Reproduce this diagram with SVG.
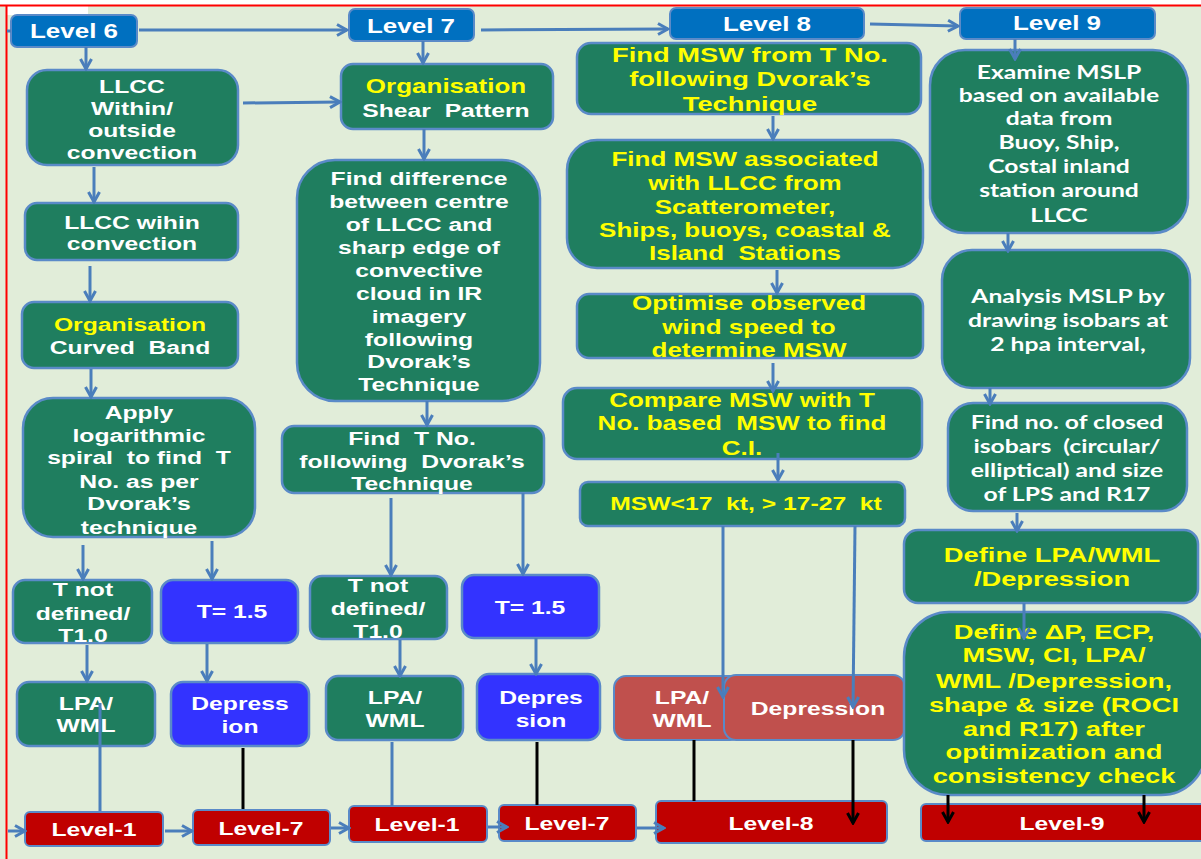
<svg xmlns="http://www.w3.org/2000/svg" width="1201" height="859" viewBox="0 0 1201 859">
<style>
.t{font-family:"Liberation Sans",Arial,sans-serif;font-weight:bold;font-size:19px;fill:#fff;text-anchor:middle;white-space:pre}
.c{font-family:Lato,"Open Sans",sans-serif;font-weight:bold;font-size:19px;fill:#fff;text-anchor:middle;white-space:pre}
.y{fill:#FFFF00}
.f20{font-size:20px}
.f21{font-size:21px}
.g{fill:#1F7E5F;stroke:#5A8AC8;stroke-width:2.5}
.b{fill:#0070C0;stroke:#5A8AC8;stroke-width:2}
.p{fill:#3333FF;stroke:#5A8AC8;stroke-width:2.5}
.r{fill:#C00000;stroke:#5A8AC8;stroke-width:2}
.rr{fill:#C0504D;stroke:#5A8AC8;stroke-width:2}
.cn{stroke:#4A7EBB;stroke-width:3;fill:none}
.k{stroke:#000;stroke-width:3;fill:none}
</style>
<defs>
<marker id="a" viewBox="0 0 14 14" refX="12" refY="7" markerWidth="14" markerHeight="14" markerUnits="userSpaceOnUse" orient="auto">
<path d="M2,1.5 L12,7 L2,12.5" fill="none" stroke="#4A7EBB" stroke-width="3"/>
</marker>
<marker id="ak" viewBox="0 0 14 14" refX="12" refY="7" markerWidth="14" markerHeight="14" markerUnits="userSpaceOnUse" orient="auto">
<path d="M2,1.5 L12,7 L2,12.5" fill="none" stroke="#000" stroke-width="3"/>
</marker>
</defs>
<rect x="0" y="0" width="1201" height="859" fill="#E1EDD9"/>
<rect x="0" y="0" width="1201" height="5" fill="#fff"/>
<rect x="7" y="6" width="81" height="9" fill="#fff"/>
<line x1="0" y1="5.5" x2="1201" y2="5.5" stroke="#FF0000" stroke-width="2"/>
<line x1="6.5" y1="5" x2="6.5" y2="859" stroke="#FF0000" stroke-width="2"/>

<g id="nodes">
<g id="n_l6"><rect class="b" x="11" y="15" width="126" height="32" rx="6"/><text class="t f20" transform="translate(74 0) scale(1.3 1)"><tspan x="0" y="38">Level 6</tspan></text></g>
<g id="n_l7"><rect class="b" x="349" y="9" width="125" height="32" rx="6"/><text class="t f20" transform="translate(411 0) scale(1.3 1)"><tspan x="0" y="33">Level 7</tspan></text></g>
<g id="n_l8"><rect class="b" x="670" y="8" width="194" height="31" rx="6"/><text class="t f20" transform="translate(767 0) scale(1.3 1)"><tspan x="0" y="31">Level 8</tspan></text></g>
<g id="n_l9"><rect class="b" x="960" y="8" width="195" height="31" rx="6"/><text class="t f20" transform="translate(1057 0) scale(1.3 1)"><tspan x="0" y="30">Level 9</tspan></text></g>

<g id="n_llcc"><rect class="g" x="27" y="70" width="211" height="95" rx="20"/><text class="t" transform="translate(132 0) scale(1.3 1)"><tspan x="0" y="93">LLCC</tspan><tspan x="0" y="115">Within/</tspan><tspan x="0" y="137">outside</tspan><tspan x="0" y="159">convection</tspan></text></g>
<g id="n_wihin"><rect class="g" x="25" y="203" width="213" height="57" rx="12"/><text class="t" transform="translate(132 0) scale(1.3 1)"><tspan x="0" y="229">LLCC wihin</tspan><tspan x="0" y="250">convection</tspan></text></g>
<g id="n_curved"><rect class="g" x="22" y="302" width="216" height="66" rx="12"/><text class="t" transform="translate(130 0) scale(1.3 1)"><tspan class="y" x="0" y="331">Organisation</tspan><tspan x="0" y="354">Curved  Band</tspan></text></g>
<g id="n_apply"><rect class="g" x="23" y="398" width="232" height="139" rx="30"/><text class="t" transform="translate(139 0) scale(1.3 1)"><tspan x="0" y="419">Apply</tspan><tspan x="0" y="442">logarithmic</tspan><tspan x="0" y="464">spiral  to find  T</tspan><tspan x="0" y="488">No. as per</tspan><tspan x="0" y="510">Dvorak’s</tspan><tspan x="0" y="534">technique</tspan></text></g>
<g id="n_tnd1"><rect class="g" x="13" y="580" width="139" height="63" rx="12"/><text class="t" transform="translate(83 0) scale(1.3 1)"><tspan x="0" y="596">T not</tspan><tspan x="0" y="620">defined/</tspan><tspan x="0" y="642">T1.0</tspan></text></g>
<g id="n_t15a"><rect class="p" x="161" y="580" width="137" height="63" rx="12"/><text class="t" transform="translate(232 0) scale(1.3 1)"><tspan x="0" y="618">T= 1.5</tspan></text></g>
<g id="n_lpa1"><rect class="g" x="17" y="682" width="138" height="64" rx="12"/><text class="t" transform="translate(86 0) scale(1.3 1)"><tspan x="0" y="710">LPA/</tspan><tspan x="0" y="732">WML</tspan></text></g>
<g id="n_dep1"><rect class="p" x="171" y="682" width="138" height="64" rx="12"/><text class="t" transform="translate(240 0) scale(1.3 1)"><tspan x="0" y="710">Depress</tspan><tspan x="0" y="733">ion</tspan></text></g>

<g id="n_org7"><rect class="g" x="341" y="64" width="212" height="65" rx="12"/><text class="t" transform="translate(446 0) scale(1.3 1)"><tspan class="y f20" x="0" y="93">Organisation</tspan><tspan x="0" y="117">Shear  Pattern</tspan></text></g>
<g id="n_diff"><rect class="g" x="297" y="160" width="243" height="241" rx="38"/><text class="t" transform="translate(419 0) scale(1.3 1)"><tspan x="0" y="185">Find difference</tspan><tspan x="0" y="208">between centre</tspan><tspan x="0" y="231">of LLCC and</tspan><tspan x="0" y="254">sharp edge of</tspan><tspan x="0" y="277">convective</tspan><tspan x="0" y="300">cloud in IR</tspan><tspan x="0" y="323">imagery</tspan><tspan x="0" y="346">following</tspan><tspan x="0" y="368">Dvorak’s</tspan><tspan x="0" y="391">Technique</tspan></text></g>
<g id="n_findT"><rect class="g" x="282" y="426" width="262" height="67" rx="12"/><text class="t" transform="translate(412 0) scale(1.3 1)"><tspan x="0" y="445">Find  T No.</tspan><tspan x="0" y="468">following  Dvorak’s</tspan><tspan x="0" y="490">Technique</tspan></text></g>
<g id="n_tnd2"><rect class="g" x="310" y="576" width="137" height="63" rx="12"/><text class="t" transform="translate(378 0) scale(1.3 1)"><tspan x="0" y="592">T not</tspan><tspan x="0" y="615">defined/</tspan><tspan x="0" y="638">T1.0</tspan></text></g>
<g id="n_t15b"><rect class="p" x="462" y="575" width="137" height="63" rx="12"/><text class="t" transform="translate(530 0) scale(1.3 1)"><tspan x="0" y="614">T= 1.5</tspan></text></g>
<g id="n_lpa2"><rect class="g" x="326" y="676" width="137" height="64" rx="12"/><text class="t" transform="translate(395 0) scale(1.3 1)"><tspan x="0" y="704">LPA/</tspan><tspan x="0" y="727">WML</tspan></text></g>
<g id="n_dep2"><rect class="p" x="477" y="674" width="123" height="66" rx="12"/><text class="t" transform="translate(541 0) scale(1.3 1)"><tspan x="0" y="704">Depres</tspan><tspan x="0" y="727">sion</tspan></text></g>

<g id="n_msw1"><rect class="g" x="577" y="43" width="344" height="71" rx="14"/><text class="t y f21" transform="translate(750 0) scale(1.3 1)"><tspan x="0" y="62">Find MSW from T No.</tspan><tspan x="0" y="86">following Dvorak’s</tspan><tspan x="0" y="111">Technique</tspan></text></g>
<g id="n_msw2"><rect class="g" x="567" y="140" width="356" height="128" rx="30"/><text class="t y f20" transform="translate(745 0) scale(1.3 1)"><tspan x="0" y="166">Find MSW associated</tspan><tspan x="0" y="190">with LLCC from</tspan><tspan x="0" y="214">Scatterometer,</tspan><tspan x="0" y="237">Ships, buoys, coastal &amp;</tspan><tspan x="0" y="260">Island  Stations</tspan></text></g>
<g id="n_opt"><rect class="g" x="577" y="294" width="346" height="64" rx="12"/><text class="t y f20" transform="translate(749 0) scale(1.3 1)"><tspan x="0" y="310">Optimise observed</tspan><tspan x="0" y="334">wind speed to</tspan><tspan x="0" y="357">determine MSW</tspan></text></g>
<g id="n_cmp"><rect class="g" x="563" y="388" width="359" height="71" rx="14"/><text class="t y f20" transform="translate(742 0) scale(1.3 1)"><tspan x="0" y="407">Compare MSW with T</tspan><tspan x="0" y="430">No. based  MSW to find</tspan><tspan x="0" y="455">C.I.</tspan></text></g>
<g id="n_mswkt"><rect class="g" x="580" y="482" width="325" height="44" rx="8"/><text class="t y" transform="translate(746 0) scale(1.3 1)"><tspan x="0" y="510">MSW&lt;17  kt, &gt; 17-27  kt</tspan></text></g>
<g id="n_lpa8"><rect class="rr" x="614" y="676" width="128" height="64" rx="12"/><text class="t" transform="translate(682 0) scale(1.3 1)"><tspan x="0" y="704">LPA/</tspan><tspan x="0" y="727">WML</tspan></text></g>
<g id="n_dep8"><rect class="rr" x="724" y="675" width="181" height="65" rx="12"/><text class="t" transform="translate(818 0) scale(1.3 1)"><tspan x="0" y="715">Depression</tspan></text></g>

<g id="n_exam"><rect class="g" x="930" y="50" width="258" height="183" rx="35"/><text class="c" transform="translate(1059 0) scale(1.3 1)"><tspan x="0" y="79">Examine MSLP</tspan><tspan x="0" y="102">based on available</tspan><tspan x="0" y="125">data from</tspan><tspan x="0" y="149">Buoy, Ship,</tspan><tspan x="0" y="173">Costal inland</tspan><tspan x="0" y="197">station around</tspan><tspan x="0" y="222">LLCC</tspan></text></g>
<g id="n_anal"><rect class="g" x="942" y="250" width="248" height="138" rx="30"/><text class="c" transform="translate(1068 0) scale(1.3 1)"><tspan x="0" y="303">Analysis MSLP by</tspan><tspan x="0" y="327">drawing isobars at</tspan><tspan x="0" y="351">2 hpa interval,</tspan></text></g>
<g id="n_closed"><rect class="g" x="948" y="403" width="239" height="108" rx="25"/><text class="c" transform="translate(1067 0) scale(1.3 1)"><tspan x="0" y="429">Find no. of closed</tspan><tspan x="0" y="453">isobars  (circular/</tspan><tspan x="0" y="477">elliptical) and size</tspan><tspan x="0" y="501">of LPS and R17</tspan></text></g>
<g id="n_deflpa"><rect class="g" x="904" y="530" width="294" height="73" rx="14"/><text class="t y f21" transform="translate(1052 0) scale(1.3 1)"><tspan x="0" y="562">Define LPA/WML</tspan><tspan x="0" y="586">/Depression</tspan></text></g>
<g id="n_defdp"><rect class="g" x="904" y="612" width="302" height="183" rx="45"/><text class="t y f21" transform="translate(1054 0) scale(1.3 1)"><tspan x="0" y="639">Define ΔP, ECP,</tspan><tspan x="0" y="662">MSW, CI, LPA/</tspan><tspan x="0" y="688">WML /Depression,</tspan><tspan x="0" y="712">shape &amp; size (ROCI</tspan><tspan x="0" y="736">and R17) after</tspan><tspan x="0" y="759">optimization and</tspan><tspan x="0" y="783">consistency check</tspan></text></g>

<g id="n_lv1a"><rect class="r" x="25" y="812" width="138" height="34" rx="5"/><text class="t" transform="translate(94 0) scale(1.3 1)"><tspan x="0" y="836">Level-1</tspan></text></g>
<g id="n_lv7a"><rect class="r" x="193" y="810" width="137" height="35" rx="5"/><text class="t" transform="translate(261 0) scale(1.3 1)"><tspan x="0" y="835">Level-7</tspan></text></g>
<g id="n_lv1b"><rect class="r" x="349" y="806" width="138" height="36" rx="5"/><text class="t" transform="translate(417 0) scale(1.3 1)"><tspan x="0" y="831">Level-1</tspan></text></g>
<g id="n_lv7b"><rect class="r" x="499" y="805" width="137" height="36" rx="5"/><text class="t" transform="translate(567 0) scale(1.3 1)"><tspan x="0" y="830">Level-7</tspan></text></g>
<g id="n_lv8"><rect class="r" x="656" y="801" width="231" height="42" rx="5"/><text class="t" transform="translate(771 0) scale(1.3 1)"><tspan x="0" y="830">Level-8</tspan></text></g>
<g id="n_lv9"><rect class="r" x="921" y="804" width="285" height="37" rx="5"/><text class="t" transform="translate(1062 0) scale(1.3 1)"><tspan x="0" y="830">Level-9</tspan></text></g>
</g>

<g id="connectors">
<line class="cn" x1="7" y1="31" x2="11" y2="31"/>
<line class="cn" x1="139" y1="30" x2="347" y2="30" marker-end="url(#a)"/>
<line class="cn" x1="481" y1="30" x2="668" y2="29" marker-end="url(#a)"/>
<line class="cn" x1="870" y1="24" x2="958" y2="26" marker-end="url(#a)"/>
<line class="cn" x1="86" y1="47" x2="86" y2="69" marker-end="url(#a)"/>
<line class="cn" x1="243" y1="103" x2="340" y2="102" marker-end="url(#a)"/>
<line class="cn" x1="423" y1="41" x2="423" y2="63" marker-end="url(#a)"/>
<line class="cn" x1="94" y1="167" x2="94" y2="202" marker-end="url(#a)"/>
<line class="cn" x1="424" y1="129" x2="424" y2="159" marker-end="url(#a)"/>
<line class="cn" x1="90" y1="266" x2="90" y2="301" marker-end="url(#a)"/>
<line class="cn" x1="91" y1="369" x2="91" y2="397" marker-end="url(#a)"/>
<line class="cn" x1="83" y1="545" x2="83" y2="579" marker-end="url(#a)"/>
<line class="cn" x1="212" y1="541" x2="212" y2="579" marker-end="url(#a)"/>
<line class="cn" x1="87" y1="645" x2="87" y2="681" marker-end="url(#a)"/>
<line class="cn" x1="207" y1="644" x2="207" y2="681" marker-end="url(#a)"/>
<line class="cn" x1="100" y1="811" x2="100" y2="703"/>
<line class="cn" x1="427" y1="401" x2="427" y2="425" marker-end="url(#a)"/>
<line class="cn" x1="391" y1="498" x2="391" y2="575" marker-end="url(#a)"/>
<line class="cn" x1="523" y1="493" x2="523" y2="574" marker-end="url(#a)"/>
<line class="cn" x1="400" y1="640" x2="400" y2="676" marker-end="url(#a)"/>
<line class="cn" x1="536" y1="638" x2="536" y2="674" marker-end="url(#a)"/>
<line class="cn" x1="392" y1="742" x2="392" y2="806"/>
<line class="cn" x1="773" y1="116" x2="773" y2="139" marker-end="url(#a)"/>
<line class="cn" x1="777" y1="270" x2="777" y2="293" marker-end="url(#a)"/>
<line class="cn" x1="773" y1="363" x2="773" y2="391" marker-end="url(#a)"/>
<line class="cn" x1="778" y1="453" x2="778" y2="480" marker-end="url(#a)"/>
<line class="cn" x1="723" y1="526" x2="723" y2="697" marker-end="url(#a)"/>
<line class="cn" x1="855" y1="526" x2="853" y2="707" marker-end="url(#a)"/>
<line class="cn" x1="1015" y1="39" x2="1015" y2="59" marker-end="url(#a)"/>
<line class="cn" x1="1008" y1="233" x2="1008" y2="251" marker-end="url(#a)"/>
<line class="cn" x1="990" y1="388" x2="990" y2="404" marker-end="url(#a)"/>
<line class="cn" x1="1017" y1="513" x2="1017" y2="531" marker-end="url(#a)"/>
<line class="cn" x1="1024" y1="603" x2="1024" y2="638" marker-end="url(#a)"/>
<line class="cn" x1="8" y1="831" x2="25" y2="831" marker-end="url(#a)"/>
<line class="cn" x1="165" y1="831" x2="192" y2="831" marker-end="url(#a)"/>
<line class="cn" x1="331" y1="828" x2="349" y2="828" marker-end="url(#a)"/>
<line class="cn" x1="488" y1="827" x2="507" y2="827" marker-end="url(#a)"/>
<line class="cn" x1="637" y1="828" x2="664" y2="828" marker-end="url(#a)"/>
<line class="k" x1="243" y1="748" x2="243" y2="809"/>
<line class="k" x1="537" y1="742" x2="537" y2="805"/>
<line class="k" x1="694" y1="740" x2="694" y2="801"/>
<line class="k" x1="853" y1="740" x2="853" y2="823" marker-end="url(#ak)"/>
<line class="k" x1="948" y1="795" x2="948" y2="822" marker-end="url(#ak)"/>
<line class="k" x1="1144" y1="795" x2="1144" y2="822" marker-end="url(#ak)"/>
</g>
</svg>
